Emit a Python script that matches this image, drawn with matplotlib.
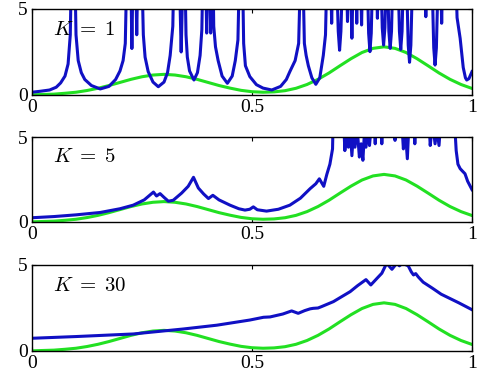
import matplotlib
matplotlib.use("Agg")
import matplotlib.pyplot as plt
import numpy as np

plt.rcParams['font.family'] = ['Liberation Serif', 'DejaVu Serif']
plt.rcParams['mathtext.fontset'] = 'cm'

# green reference curve (same in every panel)
green_x = [0.000, 0.025, 0.050, 0.075, 0.100, 0.125, 0.150, 0.175, 0.200, 0.225,
           0.250, 0.275, 0.300, 0.325, 0.350, 0.375, 0.400, 0.425, 0.450, 0.475,
           0.500, 0.525, 0.550, 0.575, 0.600, 0.625, 0.650, 0.675, 0.700, 0.725,
           0.750, 0.775, 0.800, 0.825, 0.850, 0.875, 0.900, 0.925, 0.950, 0.975, 1.000]
green_y = [0.01, 0.03, 0.05, 0.10, 0.16, 0.26, 0.39, 0.55, 0.73, 0.91,
           1.06, 1.16, 1.20, 1.16, 1.06, 0.91, 0.73, 0.55, 0.40, 0.27,
           0.19, 0.16, 0.18, 0.25, 0.39, 0.61, 0.91, 1.28, 1.70, 2.11,
           2.47, 2.71, 2.80, 2.71, 2.47, 2.11, 1.70, 1.28, 0.91, 0.61, 0.38]

# blue curves (values above 5 are clipped by the axes)
k1_pts = [
    (0.000, 0.16), (0.020, 0.22), (0.040, 0.29), (0.055, 0.45), (0.065, 0.70), (0.075, 1.10),
    (0.082, 1.80), (0.087, 3.50), (0.090, 8.0),
    (0.097, 8.0), (0.100, 3.50), (0.105, 2.00), (0.112, 1.30), (0.120, 0.90), (0.135, 0.55),
    (0.155, 0.35), (0.175, 0.50), (0.190, 0.90), (0.200, 1.40), (0.207, 2.00), (0.212, 3.00), (0.216, 8.0),
    (0.224, 8.0), (0.227, 2.70), (0.230, 8.0), (0.235, 8.0), (0.238, 3.50), (0.241, 8.0), (0.249, 8.0),
    (0.253, 3.50), (0.257, 2.20), (0.264, 1.36), (0.275, 0.75), (0.287, 0.48), (0.300, 0.75),
    (0.308, 1.30), (0.314, 2.30), (0.320, 4.00), (0.323, 8.0),
    (0.334, 8.0), (0.339, 2.50), (0.344, 8.0), (0.347, 8.0),
    (0.350, 3.50), (0.353, 2.20), (0.358, 1.40), (0.368, 0.87), (0.376, 1.30), (0.382, 2.30),
    (0.386, 3.80), (0.389, 8.0),
    (0.394, 8.0), (0.397, 3.60), (0.400, 8.0), (0.403, 8.0), (0.406, 3.60), (0.409, 8.0), (0.411, 8.0),
    (0.413, 4.00), (0.417, 2.80), (0.423, 2.00), (0.432, 1.10), (0.444, 0.68), (0.455, 1.10),
    (0.462, 2.00), (0.468, 3.20), (0.472, 8.0),
    (0.478, 8.0), (0.481, 3.00), (0.485, 1.70), (0.495, 1.07), (0.510, 0.60), (0.525, 0.40),
    (0.545, 0.29), (0.565, 0.50), (0.578, 0.90), (0.586, 1.36), (0.598, 2.00), (0.606, 3.00), (0.611, 8.0),
    (0.615, 8.0), (0.619, 3.00), (0.623, 2.30), (0.628, 1.70), (0.636, 1.00), (0.645, 0.62),
    (0.654, 1.00), (0.662, 2.30), (0.667, 3.50), (0.671, 8.0),
    (0.678, 8.0), (0.681, 4.17), (0.684, 8.0),
    (0.691, 8.0), (0.696, 3.70), (0.699, 2.60), (0.702, 3.70), (0.707, 8.0),
    (0.714, 8.0), (0.717, 4.27), (0.720, 8.0),
    (0.723, 8.0), (0.727, 3.30), (0.731, 8.0),
    (0.735, 8.0), (0.738, 4.17), (0.741, 8.0),
    (0.746, 8.0), (0.749, 4.07), (0.752, 8.0),
    (0.761, 8.0), (0.765, 3.60), (0.768, 2.52), (0.771, 3.60), (0.775, 8.0),
    (0.782, 8.0), (0.785, 4.46), (0.788, 8.0),
    (0.792, 8.0), (0.796, 3.90), (0.799, 2.90), (0.802, 3.90), (0.806, 8.0),
    (0.807, 8.0), (0.811, 3.70), (0.814, 2.71), (0.817, 3.70), (0.821, 8.0),
    (0.831, 8.0), (0.835, 3.70), (0.838, 2.65), (0.841, 3.70), (0.845, 8.0),
    (0.850, 8.0), (0.855, 2.90), (0.858, 1.90), (0.861, 2.90), (0.866, 8.0),
    (0.892, 8.0), (0.895, 4.55), (0.898, 8.0),
    (0.908, 8.0), (0.913, 2.74), (0.916, 1.74), (0.919, 2.74), (0.924, 8.0),
    (0.928, 8.0), (0.931, 4.17), (0.934, 8.0),
    (0.962, 8.0), (0.966, 4.50), (0.973, 3.30), (0.980, 1.60), (0.985, 1.00), (0.988, 0.87),
    (0.993, 0.95), (1.000, 1.36),
]

k5_pts = [
    (0.000, 0.25), (0.050, 0.32), (0.100, 0.42), (0.155, 0.56), (0.200, 0.78), (0.230, 0.99),
    (0.255, 1.30), (0.276, 1.76), (0.283, 1.53), (0.291, 1.67), (0.300, 1.45), (0.310, 1.22),
    (0.321, 1.28), (0.340, 1.70), (0.355, 2.10), (0.367, 2.63), (0.378, 2.00), (0.390, 1.65),
    (0.401, 1.38), (0.411, 1.57), (0.425, 1.30), (0.450, 0.99), (0.470, 0.78), (0.484, 0.70),
    (0.495, 0.75), (0.503, 0.89), (0.512, 0.72), (0.533, 0.64), (0.560, 0.75), (0.586, 0.99),
    (0.610, 1.40), (0.632, 1.96), (0.645, 2.25), (0.653, 2.54), (0.663, 2.10), (0.670, 2.80),
    (0.677, 3.40), (0.683, 4.30), (0.686, 8.0),
    (0.705, 8.0), (0.711, 4.20), (0.715, 5.5), (0.719, 4.40), (0.723, 5.5), (0.727, 3.90),
    (0.731, 5.5), (0.734, 4.40), (0.739, 5.5), (0.744, 3.82), (0.748, 4.60), (0.752, 3.63),
    (0.756, 5.5), (0.759, 4.40), (0.763, 5.5), (0.767, 4.50), (0.772, 6.0), (0.777, 6.0),
    (0.780, 4.60), (0.783, 6.0), (0.792, 6.0), (0.795, 4.60), (0.798, 6.0), (0.822, 6.0),
    (0.825, 4.80), (0.828, 6.0), (0.840, 6.0), (0.844, 4.30), (0.848, 5.5), (0.853, 3.72),
    (0.857, 6.0), (0.867, 6.0), (0.870, 4.60), (0.873, 6.0), (0.902, 6.0), (0.905, 4.50),
    (0.909, 5.5), (0.912, 5.5), (0.916, 4.60), (0.920, 5.5), (0.925, 4.50), (0.929, 6.0),
    (0.960, 6.0), (0.964, 4.20), (0.968, 3.40), (0.973, 3.14), (0.978, 3.00), (0.984, 2.84),
    (0.990, 2.40), (1.000, 1.90),
]

k30_pts = [
    (0.000, 0.74), (0.100, 0.84), (0.230, 0.99), (0.344, 1.28), (0.420, 1.50), (0.495, 1.80),
    (0.526, 1.96), (0.541, 1.98), (0.570, 2.15), (0.590, 2.33), (0.605, 2.19), (0.620, 2.35),
    (0.632, 2.45), (0.639, 2.48), (0.650, 2.50), (0.658, 2.58), (0.685, 2.87), (0.700, 3.10),
    (0.723, 3.45), (0.740, 3.80), (0.759, 4.15), (0.770, 3.84), (0.785, 4.25), (0.795, 4.52),
    (0.806, 5.10), (0.818, 4.75), (0.829, 5.10), (0.835, 4.95), (0.842, 5.10), (0.855, 4.95),
    (0.862, 4.60), (0.867, 4.42), (0.872, 4.50), (0.878, 4.30), (0.889, 4.00), (0.910, 3.65),
    (0.930, 3.30), (0.950, 3.05), (0.970, 2.80), (0.985, 2.60), (1.000, 2.40),
]

panel_labels = [r'$K\;=\;1$', r'$K\;=\;5$', r'$K\;=\;30$']
panel_curves = [k1_pts, k5_pts, k30_pts]
x_ticks = [0, 0.5, 1]
x_ticklabels = ['0', '0.5', '1']
y_ticks = [0, 5]

fig = plt.figure(figsize=(4.82, 3.92), dpi=100)
rects = [[0.0664, 0.7577, 0.9129, 0.2194],
         [0.0664, 0.4337, 0.9129, 0.2168],
         [0.0664, 0.1046, 0.9129, 0.2194]]

for rect, pts, lab in zip(rects, panel_curves, panel_labels):
    ax = fig.add_axes(rect)
    bx, by = np.array(pts).T
    ax.plot(green_x, green_y, color='#22e022', lw=2.2)
    ax.plot(bx, by, color='#1010c4', lw=2.2)
    ax.set_xlim(0, 1)
    ax.set_ylim(0, 5)
    ax.set_xticks(x_ticks)
    ax.set_xticklabels(x_ticklabels)
    ax.set_yticks(y_ticks)
    ax.tick_params(direction='in', length=3, width=0.8, top=True, right=True,
                   labelsize=14, pad=3)
    for s in ax.spines.values():
        s.set_linewidth(1.0)
    ax.text(0.048, 0.70, lab, transform=ax.transAxes, fontsize=15, va='baseline')

fig.savefig('out.png', dpi=100)
